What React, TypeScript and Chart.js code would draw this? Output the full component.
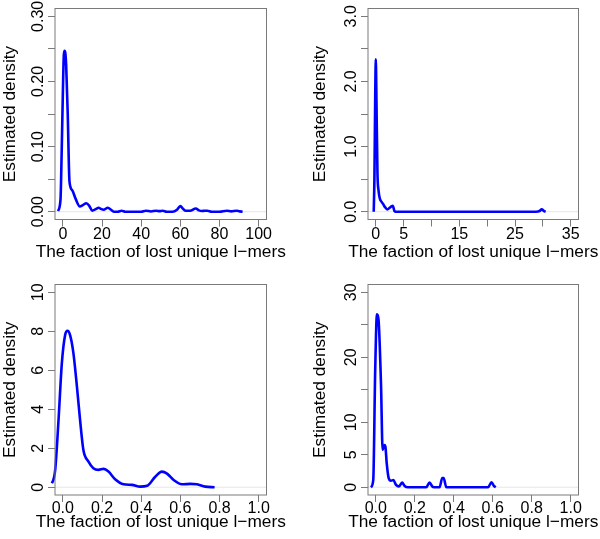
import React, { useEffect, useRef } from "react";
import { Chart, registerables } from "chart.js";

Chart.register(...registerables);

const FONT = "'Liberation Sans', Arial, Helvetica, sans-serif";
const X_TITLE = "The faction of lost unique l\u2212mers";
const Y_TITLE = "Estimated density";

// ---------- Panel A (top-left) ----------
const aX = [-2.5, -1.2, -0.6, 0, 0.5, 0.9, 1.3, 1.7, 2.5, 3.4, 4.8, 6.5, 8.7, 10.2, 12, 13.5, 15, 16.8, 18.3, 19.6, 20.8, 23, 24.6, 26, 28, 30, 32, 35, 40, 42.4, 45, 47.7, 49.3, 51, 53, 56, 58.3, 60, 61.5, 62.8, 65, 67.9, 69.5, 71, 72.5, 73.8, 76, 80, 83.7, 86, 88.7, 90.3, 91.8];
const aY = [0.001, 0.018, 0.09, 0.18, 0.24, 0.247, 0.243, 0.225, 0.15, 0.046, 0.033, 0.02, 0.008, 0.01, 0.013, 0.009, 0.0015, 0.004, 0.006, 0.004, 0.003, 0.006, 0.003, 0, 0, 0.0015, 0, 0, 0, 0.0015, 0.0003, 0.0015, 0.0008, 0.0015, 0, 0, 0.003, 0.0088, 0.004, 0.0015, 0.0015, 0.005, 0.002, 0.001, 0.0015, 0.0015, 0, 0, 0.0015, 0.0005, 0.0015, 0.0005, 0];
const aXTicks = [0, 20, 40, 60, 80, 100];
const aXLabels = ["0", "20", "40", "60", "80", "100"];
const aYTicks = [0, 0.05, 0.1, 0.15, 0.2, 0.25, 0.3];
const aYLabels = ["0.00", "", "0.10", "", "0.20", "", "0.30"];

// ---------- Panel B (top-right) ----------
const bX = [-0.37, -0.25, -0.1, 0, 0.12, 0.3, 0.5, 0.73, 1.04, 1.3, 1.65, 2.07, 2.5, 2.8, 3.05, 3.35, 3.6, 10, 20, 28.8, 29.4, 29.8, 30.2, 30.5];
const bY = [0, 0.5, 1.8, 2.34, 1.7, 0.59, 0.32, 0.2, 0.15, 0.12, 0.07, 0.035, 0.06, 0.08, 0.09, 0.01, 0, 0, 0, 0, 0.01, 0.035, 0.01, 0];
const bXTicks = [0, 5, 10, 15, 20, 25, 30, 35];
const bXLabels = ["0", "5", "", "15", "", "25", "", "35"];
const bYTicks = [0, 0.5, 1, 1.5, 2, 2.5, 3];
const bYLabels = ["0.0", "", "1.0", "", "2.0", "", "3.0"];

// ---------- Panel C (bottom-left) ----------
const cX = [-0.082, -0.056, -0.039, -0.022, -0.005, 0.012, 0.024, 0.037, 0.054, 0.072, 0.088, 0.105, 0.131, 0.156, 0.182, 0.208, 0.233, 0.267, 0.31, 0.353, 0.395, 0.43, 0.472, 0.506, 0.532, 0.566, 0.608, 0.651, 0.685, 0.727, 0.775];
const cY = [0, 0.2, 0.89, 3.45, 6.37, 7.82, 8.02, 7.8, 6.88, 5.16, 3.45, 1.91, 1.31, 0.97, 0.89, 0.94, 0.8, 0.41, 0.15, 0.12, 0.03, 0.07, 0.54, 0.8, 0.7, 0.37, 0.15, 0.17, 0.15, 0.03, 0];
const cXTicks = [0, 0.2, 0.4, 0.6, 0.8, 1.0];
const cXLabels = ["0.0", "0.2", "0.4", "0.6", "0.8", "1.0"];
const cYTicks = [0, 2, 4, 6, 8, 10];
const cYLabels = ["0", "2", "4", "6", "8", "10"];

// ---------- Panel D (bottom-right) ----------
const dX = [-0.025, -0.013, -0.003, 0.006, 0.014, 0.027, 0.035, 0.044, 0.049, 0.056, 0.066, 0.078, 0.09, 0.104, 0.118, 0.135, 0.148, 0.164, 0.259, 0.276, 0.29, 0.298, 0.327, 0.341, 0.348, 0.362, 0.576, 0.594, 0.606, 0.616];
const dY = [0, 1.13, 18.1, 26.6, 25.8, 15.5, 5.75, 6.5, 6.3, 3.7, 1.4, 1.0, 1.1, 0.35, 0.1, 0.7, 0.2, 0, 0, 0.7, 0.1, 0, 0, 1.4, 1.4, 0, 0, 0.77, 0.2, 0];
const dXTicks = [0, 0.2, 0.4, 0.6, 0.8, 1.0];
const dXLabels = ["0.0", "0.2", "0.4", "0.6", "0.8", "1.0"];
const dYTicks = [0, 5, 10, 15, 20, 25, 30];
const dYLabels = ["0", "5", "10", "", "20", "", "30"];

type Panel = {
  xs: number[]; ys: number[];
  xTicks: number[]; xLabels: string[];
  yTicks: number[]; yLabels: string[];
  xMin: number; xMax: number; yMin: number; yMax: number;
  left: number; top: number; w: number; h: number;
  area: { l: number; r: number; t: number; b: number };
  yTitlePad: number; xTitleBase: number; xLabPad: number;
};

const panels: Panel[] = [
  { xs: aX, ys: aY, xTicks: aXTicks, xLabels: aXLabels, yTicks: aYTicks, yLabels: aYLabels,
    xMin: -4, xMax: 104, yMin: -0.012, yMax: 0.312,
    left: 0, top: 0, w: 300, h: 270, area: { l: 55, r: 266.5, t: 8.5, b: 219.5 }, yTitlePad: 0, xTitleBase: 256.5, xLabPad: -1.8 },
  { xs: bX, ys: bY, xTicks: bXTicks, xLabels: bXLabels, yTicks: bYTicks, yLabels: bYLabels,
    xMin: -1.4, xMax: 36.4, yMin: -0.12, yMax: 3.12,
    left: 300, top: 0, w: 300, h: 270, area: { l: 68, r: 278.5, t: 8.5, b: 219.5 }, yTitlePad: 10, xTitleBase: 256.5, xLabPad: -1.8 },
  { xs: cX, ys: cY, xTicks: cXTicks, xLabels: cXLabels, yTicks: cYTicks, yLabels: cYLabels,
    xMin: -0.04, xMax: 1.04, yMin: -0.4, yMax: 10.4,
    left: 0, top: 270, w: 300, h: 269, area: { l: 55, r: 266.5, t: 14.5, b: 225 }, yTitlePad: 0, xTitleBase: 257, xLabPad: -3 },
  { xs: dX, ys: dY, xTicks: dXTicks, xLabels: dXLabels, yTicks: dYTicks, yLabels: dYLabels,
    xMin: -0.04, xMax: 1.04, yMin: -1.2, yMax: 31.2,
    left: 300, top: 270, w: 300, h: 269, area: { l: 68, r: 278.5, t: 14.5, b: 225 }, yTitlePad: 10, xTitleBase: 257, xLabPad: -3 },
];

const BOX = "#7a7a7a";

const rStyle = {
  id: "rStyle",
  beforeDatasetsDraw(chart: any) {
    const { ctx, chartArea } = chart;
    const y0 = chart.scales.y.getPixelForValue(0);
    ctx.save();
    ctx.strokeStyle = "#e6e6e6";
    ctx.lineWidth = 1;
    ctx.beginPath();
    ctx.moveTo(chartArea.left, y0);
    ctx.lineTo(chartArea.right, y0);
    ctx.stroke();
    ctx.restore();
  },
  afterDraw(chart: any, _args: any, opts: any) {
    const { ctx, chartArea } = chart;
    ctx.save();
    ctx.strokeStyle = BOX;
    ctx.lineWidth = 1;
    ctx.strokeRect(chartArea.left, chartArea.top, chartArea.right - chartArea.left, chartArea.bottom - chartArea.top);
    const ys = chart.scales.y;
    ctx.fillStyle = "#000";
    ctx.font = `16px ${FONT}`;
    ctx.textAlign = "center";
    ctx.textBaseline = "middle";
    const ticks: number[] = opts.yTicks || [];
    const labels: string[] = opts.yLabels || [];
    ticks.forEach((v, i) => {
      const lab = labels[i];
      if (!lab) return;
      const py = ys.getPixelForValue(v);
      ctx.save();
      ctx.translate(chartArea.left - 16, py);
      ctx.rotate(-Math.PI / 2);
      ctx.fillText(lab, 0, 0);
      ctx.restore();
    });
    // x axis title (drawn without width compression)
    ctx.font = `17.3px ${FONT}`;
    ctx.textBaseline = "alphabetic";
    ctx.fillText(opts.xTitle, (chartArea.left + chartArea.right) / 2, opts.xTitleBase);
    ctx.restore();
  },
};

function PanelChart({ p }: { p: Panel }) {
  const ref = useRef<HTMLCanvasElement | null>(null);
  useEffect(() => {
    if (!ref.current) return;
    const data = p.xs.map((x, i) => ({ x, y: p.ys[i] }));
    const chart = new Chart(ref.current, {
      type: "line",
      data: {
        datasets: [
          {
            data,
            borderColor: "#0000ff",
            borderWidth: 2.6,
            pointRadius: 0,
            fill: false,
            cubicInterpolationMode: "monotone",
            clip: false as any,
          },
        ],
      },
      plugins: [rStyle as any],
      options: {
        responsive: false,
        animation: false,
        devicePixelRatio: 1,
        layout: { padding: { left: 0, right: p.w - p.area.r, top: p.area.t, bottom: 0 } },
        plugins: {
          legend: { display: false },
          tooltip: { enabled: false },
          rStyle: { yTicks: p.yTicks, yLabels: p.yLabels, xTitle: X_TITLE, xTitleBase: p.xTitleBase },
        } as any,
        scales: {
          x: {
            type: "linear",
            min: p.xMin,
            max: p.xMax,
            afterBuildTicks: (s: any) => { s.ticks = p.xTicks.map((v) => ({ value: v })); },
            afterFit: (s: any) => { s.height = p.h - p.area.b; },
            grid: { drawOnChartArea: false, drawTicks: true, tickLength: 7, color: BOX, lineWidth: 1 },
            border: { display: false },
            ticks: {
              autoSkip: false,
              maxRotation: 0,
              minRotation: 0,
              padding: p.xLabPad,
              color: "#000",
              font: { family: FONT, size: 16 },
              callback: (v: any) => {
                const i = p.xTicks.findIndex((t) => Math.abs(t - Number(v)) < 1e-9);
                return i >= 0 ? p.xLabels[i] : "";
              },
            },
            title: { display: false },
          },
          y: {
            type: "linear",
            min: p.yMin,
            max: p.yMax,
            afterBuildTicks: (s: any) => { s.ticks = p.yTicks.map((v) => ({ value: v })); },
            afterFit: (s: any) => { s.width = p.area.l; },
            grid: { drawOnChartArea: false, drawTicks: true, tickLength: 7, color: BOX, lineWidth: 1 },
            border: { display: false },
            ticks: { display: false },
            title: {
              display: true,
              text: Y_TITLE,
              color: "#000",
              font: { family: FONT, size: 17.3 },
              padding: { top: p.yTitlePad, bottom: 0 },
            },
          },
        },
      } as any,
    });
    return () => chart.destroy();
  }, [p]);
  return (
    <canvas
      ref={ref}
      width={p.w}
      height={p.h}
      style={{ position: "absolute", left: p.left, top: p.top, width: p.w, height: p.h, display: "block" }}
    />
  );
}

export default function App() {
  return (
    <div style={{ position: "absolute", left: 0, top: 0, width: 600, height: 539, background: "#fff", overflow: "hidden" }}>
      {panels.map((p, i) => (
        <PanelChart key={i} p={p} />
      ))}
    </div>
  );
}
